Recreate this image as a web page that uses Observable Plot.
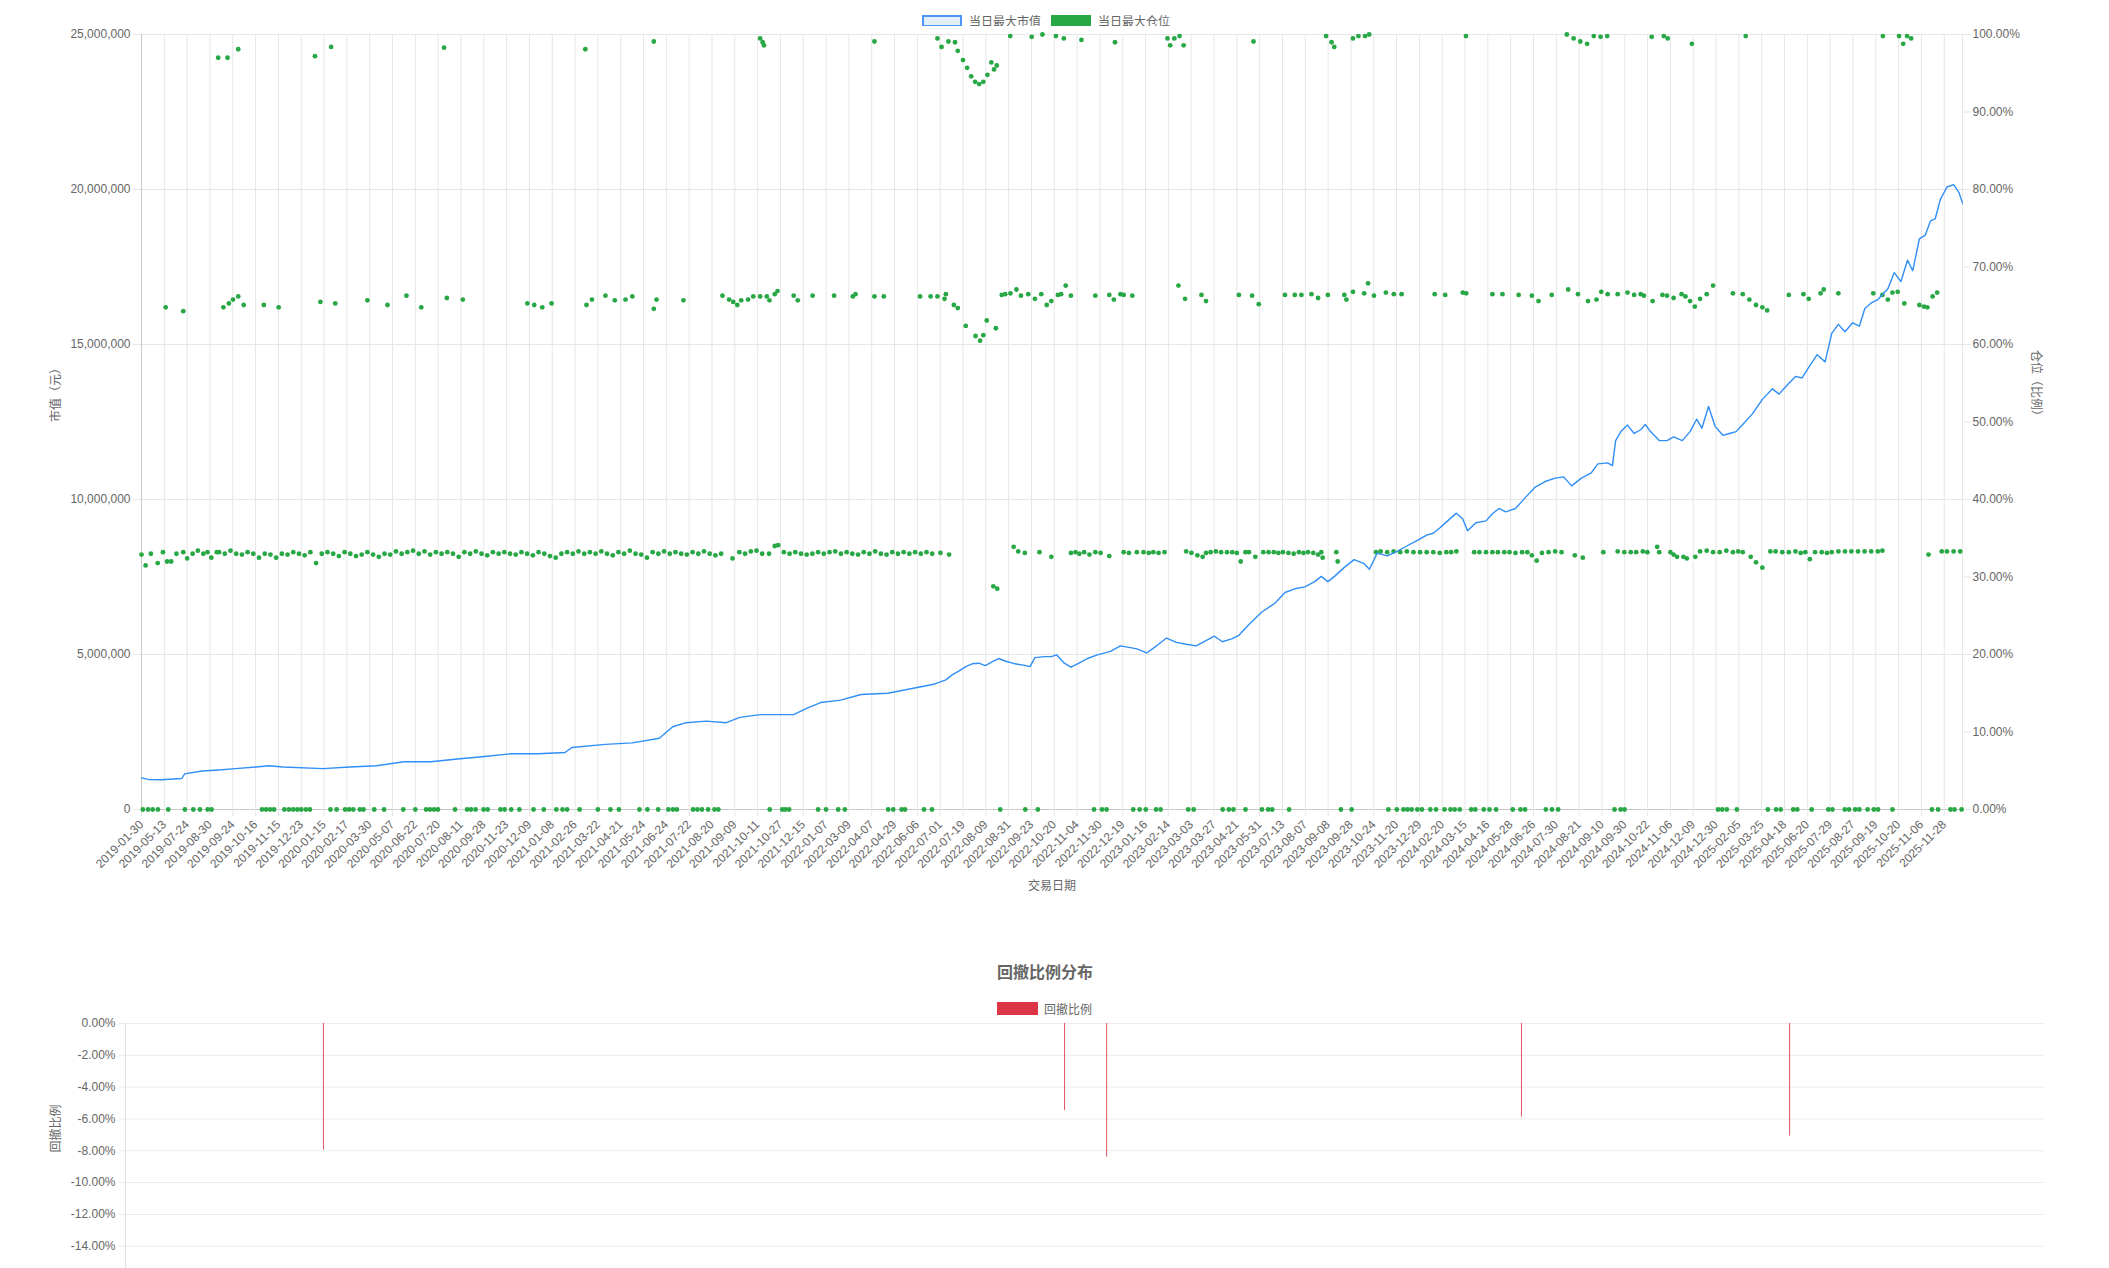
<!DOCTYPE html>
<html><head><meta charset="utf-8">
<script src="https://cdn.jsdelivr.net/npm/d3@7"></script>
<script src="https://cdn.jsdelivr.net/npm/@observablehq/plot@0.6"></script>
<style>
html,body{margin:0;padding:0;background:#fff;overflow:hidden;width:2109px;height:1268px;}
body{position:relative;font-family:"Liberation Sans",Arial,"Noto Sans CJK SC",sans-serif;color:#666;}
.legend{position:absolute;display:flex;align-items:center;font-size:12px;color:#666;white-space:nowrap;}
.legend .box{display:inline-block;width:40px;height:12px;box-sizing:border-box;margin-right:7px;}
.legend .item{display:flex;align-items:center;margin-right:10px;}
#legend1{left:922px;top:12px;}
#chart1{position:absolute;left:0;top:26px;}
#title2{position:absolute;left:0;width:2090px;top:959px;text-align:center;font-size:16px;font-weight:bold;color:#666;font-family:"Noto Sans CJK SC",sans-serif;}
#legend2{left:997px;top:1000px;}
#chart2{position:absolute;left:0;top:1015px;}
</style></head><body>
<div id="legend1" class="legend">
  <span class="item"><span class="box" style="border:2px solid #4a97f7;background:#e3eefd"></span>当日最大市值</span>
  <span class="item"><span class="box" style="background:#28a745"></span>当日最大仓位</span>
</div>
<div id="chart1"></div>
<div id="title2">回撤比例分布</div>
<div id="legend2" class="legend">
  <span class="item"><span class="box" style="background:#dc3545;height:13px;width:41px;margin-right:6px"></span>回撤比例</span>
</div>
<div id="chart2"></div>
<script>
// ---------------- data ----------------
const xLabels = ["2019-01-30","2019-05-13","2019-07-24","2019-08-30","2019-09-24","2019-10-16","2019-11-15","2019-12-23","2020-01-15","2020-02-17","2020-03-30","2020-05-07","2020-06-22","2020-07-20","2020-08-11","2020-09-28","2020-11-23","2020-12-09","2021-01-08","2021-02-26","2021-03-22","2021-04-21","2021-05-24","2021-06-24","2021-07-22","2021-08-20","2021-09-09","2021-10-11","2021-10-27","2021-12-15","2022-01-07","2022-03-09","2022-04-07","2022-04-29","2022-06-06","2022-07-01","2022-07-19","2022-08-09","2022-08-31","2022-09-23","2022-10-20","2022-11-04","2022-11-30","2022-12-19","2023-01-16","2023-02-14","2023-03-03","2023-03-27","2023-04-21","2023-05-31","2023-07-13","2023-08-07","2023-09-08","2023-09-28","2023-10-24","2023-11-20","2023-12-29","2024-02-20","2024-03-15","2024-04-16","2024-05-28","2024-06-26","2024-07-30","2024-08-21","2024-09-10","2024-09-30","2024-10-22","2024-11-06","2024-12-09","2024-12-30","2025-02-05","2025-03-25","2025-04-18","2025-06-20","2025-07-29","2025-08-27","2025-09-19","2025-10-20","2025-11-06","2025-11-28"];
const xEnd = 79.8; // position of the last trading day, in label steps

// 当日最大市值 (x in label steps, value in million 元)
const mvX = [0,0.29,0.88,1.77,1.89,2.65,3.54,4.12,5.01,5.6,6.19,7.96,9.13,10.31,11.49,12.67,13.85,15.03,16.21,17.38,18.56,18.86,20.33,21.51,22.69,23.28,23.87,24.75,25.63,26.22,27.11,28.58,29.17,29.76,30.64,31.53,32.7,33.88,34.77,
35.25,35.54,35.83,36.12,36.4,36.69,36.98,37.27,37.56,37.85,38.28,38.71,38.94,39.15,39.58,39.87,40.1,40.44,40.73,41.02,41.45,41.89,42.46,42.9,43.33,43.62,44.05,44.48,44.92,45.35,45.78,46.22,46.5,47.02,47.37,47.8,48.09,48.53,49.1,49.68,50.11,50.54,50.98,51.41,51.7,51.99,52.28,52.71,53.14,53.58,53.81,54.15,54.59,55.02,55.45,55.89,56.32,56.61,56.89,57.24,57.62,57.9,58.11,58.48,58.92,59.2,59.49,59.78,60.21,60.64,61.08,61.51,61.95,62.32,62.67,63.1,63.53,63.82,64.25,64.46,64.6,64.83,65.12,65.41,65.7,65.9,66.13,66.51,66.85,67.14,67.52,67.86,68.15,68.38,68.67,68.96,69.3,69.59,69.88,70.17,70.6,71.03,71.47,71.76,72.04,72.48,72.77,73.06,73.43,73.78,74.07,74.36,74.65,74.99,75.28,75.52,75.8,76.09,76.53,76.81,77.1,77.39,77.62,77.91,78.17,78.4,78.6,78.83,79.12,79.41,79.64,79.8];
const mvM = [1.02,0.97,0.96,1.0,1.15,1.24,1.28,1.32,1.37,1.41,1.37,1.32,1.37,1.41,1.54,1.54,1.63,1.71,1.8,1.8,1.84,2.0,2.1,2.15,2.3,2.67,2.8,2.85,2.8,2.97,3.06,3.06,3.27,3.45,3.53,3.71,3.75,3.92,4.05,
4.18,4.35,4.47,4.61,4.7,4.72,4.64,4.76,4.87,4.79,4.7,4.65,4.61,4.9,4.93,4.93,4.99,4.72,4.59,4.7,4.87,4.99,5.1,5.28,5.22,5.18,5.05,5.28,5.53,5.39,5.33,5.28,5.39,5.59,5.41,5.51,5.62,5.97,6.37,6.66,7.0,7.12,7.18,7.35,7.52,7.35,7.52,7.81,8.06,7.93,7.75,8.27,8.18,8.33,8.5,8.67,8.85,8.91,9.08,9.31,9.56,9.37,8.99,9.25,9.31,9.54,9.71,9.6,9.71,10.06,10.4,10.58,10.69,10.73,10.44,10.69,10.86,11.15,11.18,11.09,11.9,12.19,12.4,12.13,12.25,12.42,12.19,11.9,11.9,12.02,11.9,12.19,12.59,12.3,13.0,12.36,12.07,12.13,12.19,12.42,12.77,13.23,13.57,13.4,13.63,13.97,13.92,14.26,14.67,14.44,15.36,15.65,15.41,15.7,15.59,16.16,16.34,16.45,16.8,17.32,17.03,17.72,17.38,18.41,18.53,18.99,19.05,19.68,20.08,20.16,19.91,19.56];

// 当日最大仓位 (%): days at 0
const posZeroX = [0.06,0.29,0.49,0.72,1.17,1.9,2.27,2.56,2.9,3.07,5.28,5.46,5.64,5.81,6.26,6.46,6.65,6.83,7.0,7.2,7.38,8.28,8.55,8.92,9.1,9.28,9.57,9.73,10.2,10.63,11.47,12.0,12.47,12.64,12.82,12.99,13.74,14.27,14.44,14.64,14.99,15.17,15.73,15.91,16.2,16.56,17.18,17.63,18.18,18.45,18.65,19.2,20.0,20.55,20.92,21.82,22.17,22.64,23.09,23.29,23.46,24.17,24.36,24.56,24.83,25.11,25.28,27.53,28.08,28.22,28.38,29.65,30.0,30.53,30.82,32.72,32.94,33.31,33.46,34.29,34.64,37.63,38.73,39.28,41.74,42.09,42.29,43.46,43.74,44.01,44.46,44.66,45.87,46.11,47.38,47.65,47.85,48.38,49.1,49.37,49.55,50.29,52.56,53.03,54.64,55.01,55.3,55.48,55.66,55.91,56.11,56.48,56.73,57.1,57.36,57.55,57.77,58.27,58.45,58.82,59.07,59.36,60.09,60.43,60.63,61.54,61.81,62.08,64.55,64.82,64.99,69.09,69.27,69.47,69.91,71.27,71.63,71.83,72.38,72.56,73.19,73.92,74.1,74.64,74.83,75.1,75.28,75.64,75.91,76.1,76.73,78.46,78.73,79.27,79.45,79.76];
// days around one third
const posThird = [[0,32.9],[0.18,31.5],[0.41,33.0],[0.71,31.8],[0.94,33.2],[1.12,32.0],[1.3,32.0],[1.53,33.0],[1.83,33.2],[2.0,32.4],[2.24,33.0],[2.47,33.4],[2.71,33.0],[2.89,33.2],[3.06,32.5],[3.3,33.2],
[3.4,33.2],[3.65,33.0],[3.9,33.4],[4.15,33.0],[4.4,32.9],[4.65,33.2],[4.9,33.0],[5.15,32.5],[5.4,33.0],[5.65,32.9],[5.9,32.5],[6.15,33.0],[6.4,32.9],[6.65,33.2],[6.9,33.0],[7.15,32.8],[7.4,33.2],[7.65,31.8],[7.9,33.0],[8.15,33.2],[8.4,33.0],[8.65,32.7],[8.9,33.2],[9.15,33.0],[9.4,32.7],[9.65,32.9],[9.9,33.2],[10.15,32.9],[10.4,32.6],[10.65,33.0],[10.9,32.9],[11.15,33.3],[11.4,33.0],[11.65,33.2],[11.9,33.4],[12.15,33.0],[12.4,33.3],[12.65,32.9],[12.9,33.2],[13.15,33.0],[13.4,33.2],[13.65,33.0],[13.9,32.6],[14.15,33.2],[14.4,33.0],[14.65,33.3],[14.9,33.0],[15.15,32.8],[15.4,33.2],[15.65,33.0],[15.9,33.2],[16.15,33.0],[16.4,32.9],[16.65,33.2],[16.9,33.0],[17.15,32.8],[17.4,33.2],[17.65,33.0],[17.9,32.7],[18.15,32.5],[18.4,33.0],[18.65,33.2],[18.9,33.0],[19.15,33.3],[19.4,33.0],[19.65,33.2],[19.9,33.0],[20.15,33.3],[20.4,33.0],[20.65,32.8],[20.9,33.2],[21.15,33.0],[21.4,33.4],[21.65,33.0],[21.9,32.9],[22.15,32.5],[22.4,33.2],[22.65,33.0],[22.9,33.3],[23.15,33.0],[23.4,33.2],[23.65,33.0],[23.9,32.9],[24.15,33.2],[24.4,33.0],[24.65,33.3],[24.9,33.0],[25.15,32.8],[25.4,33.0],[25.9,32.4],[26.2,33.2],[26.45,33.0],[26.7,33.3],[26.95,33.4],[27.2,33.0],[27.5,33.0],[27.75,34.0],[27.9,34.1],[28.15,33.2],[28.4,33.0],[28.65,33.2],[28.9,33.0],[29.15,32.9],[29.4,33.0],[29.65,33.2],[29.9,33.0],[30.15,33.2],[30.4,33.3],[30.65,33.0],[30.9,33.2],[31.15,33.0],[31.4,32.9],[31.65,33.2],[31.9,33.0],[32.15,33.3],[32.4,33.0],[32.65,32.9],[32.9,33.2],[33.15,33.0],[33.4,33.2],[33.65,33.0],[33.9,33.2],[34.15,33.0],[34.4,33.2],[34.65,33.0],
[35.01,33.1],[35.39,32.9],[37.33,28.8],[37.5,28.5],[38.22,33.9],[38.42,33.3],[38.71,33.1],[39.35,33.2],[39.87,32.6],
[40.73,33.1],[40.93,33.2],[41.1,33.0],[41.31,33.2],[41.54,32.9],[41.8,33.2],[42.03,33.1],[42.41,32.7],
[43.04,33.2],[43.27,33.1],[43.62,33.2],[43.91,33.2],[44.14,33.1],[44.34,33.2],[44.57,33.1],[44.83,33.2],
[45.78,33.3],[46.01,33.1],[46.27,32.8],[46.5,32.6],[46.65,33.1],[46.85,33.2],[47.08,33.3],[47.31,33.2],[47.57,33.2],[47.8,33.2],[48.0,33.1],[48.17,32.0],[48.38,33.2],[48.53,33.2],
[48.81,32.6],[49.16,33.2],[49.39,33.2],[49.62,33.2],[49.82,33.1],[50.02,33.2],[50.26,33.1],[50.49,33.0],[50.72,33.2],[50.92,33.1],[51.12,33.2],[51.35,33.1],[51.56,32.9],[51.7,33.2],[51.76,32.5],
[52.36,33.2],[52.42,32.0],
[54.1,33.2],[54.3,33.3],[54.59,33.2],[54.87,33.3],[55.16,33.2],[55.45,33.3],[55.74,33.2],[56.03,33.2],[56.32,33.2],[56.61,33.2],[56.89,33.1],[57.18,33.2],[57.39,33.2],[57.62,33.3],
[58.4,33.2],[58.63,33.2],[58.92,33.2],[59.2,33.2],[59.44,33.2],[59.72,33.2],[59.95,33.2],[60.21,33.1],[60.5,33.2],[60.73,33.2],[60.93,32.8],[61.14,32.1],[61.37,33.1],[61.66,33.2],[61.95,33.3],[62.23,33.2],
[62.81,32.8],[63.16,32.5],
[64.06,33.2],[64.69,33.3],[64.98,33.2],[65.26,33.2],[65.5,33.2],[65.79,33.3],[65.99,33.2],
[66.42,33.9],[66.51,33.2],[67.0,33.2],[67.14,32.9],[67.29,32.6],[67.57,32.6],[67.72,32.4],[68.09,32.6],
[68.3,33.3],[68.59,33.4],[68.87,33.2],[69.16,33.2],[69.45,33.4],[69.74,33.2],[69.97,33.3],[70.17,33.2],
[70.52,32.6],[70.75,31.9],[71.03,31.2],
[71.38,33.3],[71.61,33.3],[71.9,33.2],[72.19,33.2],[72.48,33.3],[72.71,33.1],[72.91,33.2],[73.11,32.3],[73.34,33.2],[73.63,33.2],[73.86,33.1],[74.07,33.2],[74.36,33.3],[74.65,33.3],[74.93,33.3],[75.22,33.3],[75.51,33.3],[75.8,33.3],[76.09,33.3],[76.29,33.4],
[78.31,32.9],[78.89,33.3],[79.12,33.3],[79.41,33.3],[79.7,33.3]];
// days around two thirds
const posTwoThirds = [[1.06,64.8],[1.83,64.3],[3.59,64.8],[3.83,65.3],[4.01,65.8],[4.24,66.2],[4.48,65.1],[5.36,65.1],[6.01,64.8],[7.84,65.5],[8.49,65.3],[9.9,65.7],[10.78,65.1],[11.61,66.3],[12.26,64.8],[13.38,66.0],[14.08,65.8],[16.91,65.3],[17.21,65.1],[17.56,64.8],[17.97,65.3],[19.5,65.1],[19.74,65.8],[20.33,66.3],[20.74,65.7],[21.21,65.8],[21.51,66.2],[22.45,64.6],[22.57,65.8],[23.75,65.7],[25.46,66.3],[25.75,65.8],[25.93,65.5],[26.11,65.1],[26.28,65.7],[26.58,65.8],[26.81,66.2],[27.11,66.2],[27.4,66.2],[27.52,65.7],[27.75,66.5],[27.87,66.9],[28.58,66.3],[28.76,65.7],[29.41,66.3],[30.35,66.3],[31.17,66.2],[31.29,66.5],[32.12,66.2],[32.53,66.2],[34.12,66.2],[34.58,66.2],[34.88,66.2],
[35.19,65.9],[35.25,66.5],[35.6,65.1],[35.77,64.7],[36.12,62.4],[36.55,61.1],[36.75,60.5],[36.89,61.2],[37.04,63.1],[37.44,62.1],
[37.7,66.4],[37.85,66.5],[38.08,66.6],[38.34,67.1],[38.54,66.3],[38.86,66.5],[39.15,65.9],[39.43,66.5],[39.67,65.1],[39.87,65.6],[40.16,66.4],[40.3,66.5],[40.5,67.6],[40.73,66.3],[41.8,66.3],[42.41,66.4],[42.61,65.8],[42.9,66.5],[43.04,66.4],[43.42,66.3],[45.44,67.6],[45.73,65.9],[46.45,66.4],[46.65,65.6],[48.09,66.4],[48.67,66.3],[48.96,65.2],[50.11,66.4],[50.54,66.4],[50.83,66.4],[51.27,66.5],[51.56,66.0],[51.99,66.4],[52.71,66.4],[52.8,65.8],[53.09,66.8],[53.58,66.6],[53.75,67.9],[54.01,66.3],[54.53,66.7],[54.88,66.5],[55.22,66.5],[56.67,66.5],[57.13,66.4],[57.9,66.7],[58.05,66.6],[59.2,66.5],[59.64,66.5],[60.35,66.4],[60.93,66.3],[61.22,65.6],[61.8,66.4],[62.52,67.1],[62.95,66.5],[63.39,65.6],[63.76,65.8],[63.97,66.8],[64.25,66.5],[64.69,66.5],[65.12,66.7],[65.41,66.4],[65.7,66.5],[65.84,66.3],[66.22,65.6],[66.65,66.4],[66.85,66.3],[67.14,66.0],[67.49,66.5],[67.66,66.2],[67.86,65.6],[68.07,64.9],[68.3,65.9],[68.59,66.5],[68.87,67.6],[69.74,66.6],[70.17,66.5],[70.46,65.8],[70.75,65.1],[71.03,64.8],[71.24,64.4],[72.19,66.4],[72.83,66.5],[73.06,65.9],[73.58,66.6],[73.72,67.1],[74.36,66.6],[75.89,66.6],[76.29,66.4],[76.53,65.8],[76.73,66.7],[76.96,66.8],[77.25,65.3],[77.91,65.1],[78.11,64.9],[78.26,64.8],[78.49,66.2],[78.69,66.7]];
// days near full position
const posFull = [[3.36,97.0],[3.77,97.0],[4.24,98.1],[7.6,97.2],[8.31,98.4],[13.26,98.3],[19.45,98.1],[22.45,99.1],[27.11,99.5],[27.22,99.0],[27.28,98.6],[32.12,99.1],[34.88,99.5],[35.06,98.4],[35.36,99.1],[35.65,99.0],
[35.77,97.9],[36.0,96.7],[36.18,95.7],[36.36,94.6],[36.53,93.9],[36.71,93.6],[36.89,93.9],[37.07,94.8],[37.24,96.4],[37.36,95.5],[37.48,96.0],
[38.07,99.8],[39.01,99.7],[39.48,100],[40.07,99.8],[40.42,99.5],[41.19,99.3],[42.66,99.0],[44.96,99.5],[45.08,98.6],[45.26,99.5],[45.49,99.8],[45.67,98.6],[48.73,99.1],[51.91,99.8],[52.15,99.0],[52.27,98.4],[53.09,99.5],[53.33,99.8],[53.62,99.8],[53.8,100],[58.04,99.8],[62.46,100],[62.76,99.5],[63.05,99.1],[63.35,98.8],[63.64,99.8],[63.94,99.7],[64.23,99.8],[66.18,99.7],[66.71,99.8],[66.88,99.5],[67.94,98.8],[70.3,99.8],[76.31,99.8],[77.02,99.8],[77.2,98.8],[77.37,99.8],[77.55,99.5]];

// 回撤比例 (%)
const ddX = [8.23, 39.05, 40.8, 58.05, 69.2];
const ddPct = [-7.96, -5.47, -8.4, -5.88, -7.08];

// ---------------- chart 1 ----------------
const YMAX = 25e6;
const font = '"Liberation Sans", Arial, "Noto Sans CJK SC", sans-serif';
const grid = "#e6e6e6";
const lineData = mvX.map((x, i) => ({x, v: mvM[i] * 1e6}));
const dotData = [
  ...posZeroX.map(x => ({x, p: 0})),
  ...posThird.map(([x, p]) => ({x, p})),
  ...posTwoThirds.map(([x, p]) => ({x, p})),
  ...posFull.map(([x, p]) => ({x, p}))
];
const ticksX = d3.range(xLabels.length);

const chart1 = Plot.plot({
  width: 2109, height: 883,
  marginLeft: 141, marginRight: 147, marginTop: 8, marginBottom: 100,
  style: {fontFamily: font, fontSize: "12px", color: "#666", background: "#fff", overflow: "visible"},
  x: {domain: [0, xEnd]},
  y: {domain: [0, YMAX]},
  marks: [
    Plot.gridX(ticksX, {stroke: grid, strokeOpacity: 1}),
    Plot.ruleX([xEnd], {stroke: grid}),
    Plot.gridY(d3.range(0, YMAX + 1, 5e6), {stroke: grid, strokeOpacity: 1}),
    Plot.ruleX([0], {stroke: "#c9c9c9"}),
    Plot.ruleY([0], {stroke: "#c9c9c9"}),
    Plot.axisY(d3.range(0, YMAX + 1, 5e6), {anchor: "left", tickSize: 8, tickPadding: 3, tickFormat: d3.format(","), stroke: grid, label: null}),
    Plot.axisY(d3.range(0, YMAX + 1, 2.5e6), {anchor: "right", tickSize: 8, tickPadding: 2, tickFormat: d => (d / YMAX * 100).toFixed(2) + "%", stroke: grid, label: null}),
    Plot.axisX(ticksX, {anchor: "bottom", tickSize: 7, tickPadding: 6, tickRotate: -45, tickFormat: i => xLabels[i], stroke: grid, label: null}),
    Plot.dot(dotData, {x: "x", y: d => d.p / 100 * YMAX, r: 2.4, fill: "#28a745", stroke: null}),
    Plot.line(lineData, {x: "x", y: "v", stroke: "#2f8ff7", strokeWidth: 1.4}),
    Plot.text(["市值（元）"], {frameAnchor: "left", dx: -85, rotate: -90, fill: "#666", fontSize: 12}),
    Plot.text(["仓位（比例）"], {frameAnchor: "right", dx: 73, rotate: 90, fill: "#666", fontSize: 12}),
    Plot.text(["交易日期"], {frameAnchor: "bottom", dy: 80, fill: "#666", fontSize: 12})
  ]
});
document.getElementById("chart1").append(chart1);

// ---------------- chart 2 ----------------
const ddData = ddX.map((x, i) => ({x, v: ddPct[i]}));
const chart2 = Plot.plot({
  width: 2109, height: 253,
  marginLeft: 125, marginRight: 65, marginTop: 8, marginBottom: 0,
  style: {fontFamily: font, fontSize: "12px", color: "#666", background: "#fff", overflow: "visible"},
  x: {domain: [0, xEnd], axis: null},
  y: {domain: [-15.4, 0]},
  marks: [
    Plot.gridY(d3.range(-14, 0.1, 2), {stroke: "#ececec", strokeOpacity: 1}),
    Plot.ruleX([0], {stroke: "#e0e0e0"}),
    Plot.axisY(d3.range(-14, 0.1, 2), {anchor: "left", tickSize: 6, tickPadding: 4, tickFormat: d => (d === 0 ? 0 : d).toFixed(2) + "%", stroke: "#ececec", label: null}),
    Plot.ruleX(ddData, {x: "x", y1: 0, y2: "v", stroke: "#dc3545", strokeWidth: 1, strokeOpacity: 0.85}),
    Plot.text(["回撤比例"], {x: 0, y: -6.6, dx: -69, rotate: -90, fill: "#666", fontSize: 12})
  ]
});
document.getElementById("chart2").append(chart2);
</script>
</body></html>
